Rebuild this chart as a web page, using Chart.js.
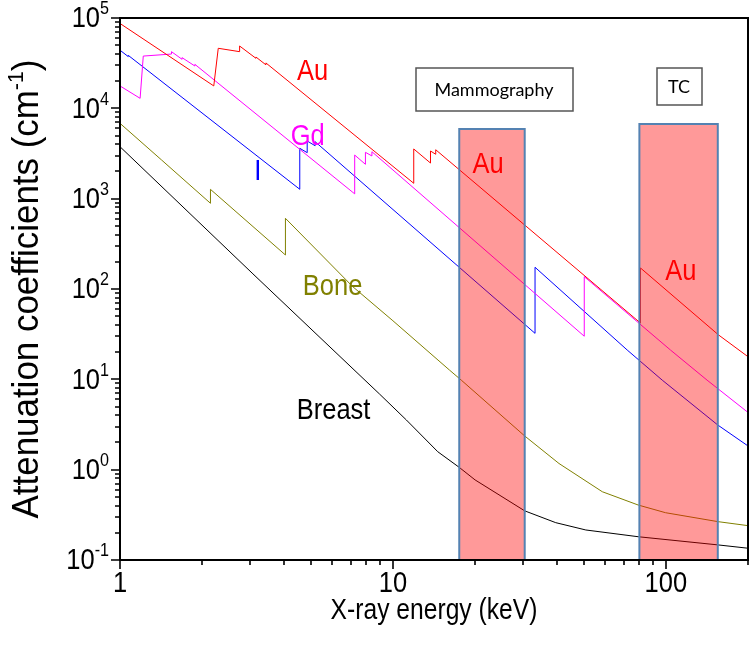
<!DOCTYPE html>
<html>
<head>
<meta charset="utf-8">
<script src="https://cdn.jsdelivr.net/npm/chart.js@4.4.1/dist/chart.umd.min.js"></script>
<style>
  html, body { margin: 0; padding: 0; background: #fff; }
  #wrap { width: 750px; height: 659px; position: relative; }
</style>
</head>
<body>
<div id="wrap"><canvas id="chart"></canvas></div>
<script>
// X-ray energy (keV) / attenuation coefficient (cm^-1)
const auEnergy = [1, 2.206, 2.291, 2.743, 2.743, 3.148, 3.148, 3.425, 3.425, 11.92, 11.92, 13.73, 13.73, 14.35, 14.35, 80.72, 80.72, 156, 200];
const auMu = [87000, 17700, 46200, 42400, 49000, 35800, 37000, 30300, 31800, 1480, 3550, 2480, 3370, 3100, 3480, 42, 171, 31, 17.8];

const gdEnergy = [1, 1.185, 1.217, 1.544, 1.544, 1.688, 1.688, 1.881, 1.881, 7.243, 7.243, 7.93, 7.93, 8.376, 8.376, 50.24, 50.24, 104, 141.6, 200];
const gdMu = [17700, 12900, 37900, 39900, 42400, 34900, 36400, 29400, 30700, 1130, 3040, 2400, 3260, 2970, 3310, 30, 137, 21.1, 9.8, 4.3];

const iEnergy = [1, 1.072, 1.072, 4.557, 4.557, 4.852, 4.852, 5.188, 5.188, 33.17, 33.17, 72.2, 97, 155, 200];
const iMu = [44000, 37400, 38600, 1270, 3610, 3230, 4350, 3850, 4270, 32.3, 174, 21.1, 9.8, 3.12, 1.83];

const boneEnergy = [1, 1.42, 2.145, 2.145, 4.038, 4.038, 7.13, 10, 16.1, 17.8, 30.4, 40.6, 58.5, 79.2, 99.7, 155, 200];
const boneMu = [6820, 2680, 889, 1268, 238, 606, 106, 44.5, 12.7, 9.8, 2.36, 1.17, 0.57, 0.406, 0.334, 0.266, 0.24];

const breastEnergy = [1, 3.07, 8.93, 11.2, 14.6, 17.5, 20, 30.4, 39.5, 50.9, 79.2, 155, 200];
const breastMu = [3760, 147, 6.88, 3.55, 1.58, 1.06, 0.77, 0.35, 0.259, 0.215, 0.181, 0.147, 0.135];

// energy windows (shaded bands)
const mammoEnergy = [17.5, 17.5, 30.4, 30.4];
const mammoMu = [0.1, 5900, 5900, 0.1];
const tcEnergy = [80, 80, 155, 155];
const tcMu = [0.1, 6700, 6700, 0.1];

// axes
const xTickValues = [1, 10, 100];
const xTickLabels = ['1', '10', '100'];
const yTickExponents = [-1, 0, 1, 2, 3, 4, 5];

const FONT = '"Liberation Sans", Arial, sans-serif';
const NARROW = 0.85; // the original lettering is a condensed Arial

function toPoints(xs, ys) {
    return xs.map((x, i) => ({ x: x, y: ys[i] }));
}

function curve(label, xs, ys, color) {
    return {
        label: label,
        data: toPoints(xs, ys),
        borderColor: color,
        borderWidth: 1,
        pointRadius: 0,
        showLine: true,
        fill: false,
        order: 1
    };
}

function band(label, xs, ys) {
    return {
        label: label,
        data: toPoints(xs, ys),
        borderColor: 'rgb(84,130,178)',
        borderWidth: 2,
        backgroundColor: 'rgba(255,0,0,0.4)',
        pointRadius: 0,
        showLine: true,
        fill: 'start',
        order: 0
    };
}

// parts: [[text, size, dy], ...] drawn side by side, squeezed horizontally by sx
function richText(ctx, parts, x, y, align, sx) {
    let w = 0;
    parts.forEach(p => {
        ctx.font = p[1] + 'px ' + FONT;
        w += ctx.measureText(p[0]).width;
    });
    const left = align === 'right' ? x - w * sx : align === 'center' ? x - w * sx / 2 : x;
    ctx.save();
    ctx.translate(left, y);
    ctx.scale(sx, 1);
    ctx.textAlign = 'left';
    ctx.textBaseline = 'middle';
    let cx = 0;
    parts.forEach(p => {
        ctx.font = p[1] + 'px ' + FONT;
        ctx.fillText(p[0], cx, p[2] || 0);
        cx += ctx.measureText(p[0]).width;
    });
    ctx.restore();
}

const decor = {
    id: 'decor',
    afterDraw(chart) {
        const ctx = chart.ctx;
        const a = chart.chartArea;
        const xs = chart.scales.x;
        const ys = chart.scales.y;
        ctx.save();

        // frame
        ctx.strokeStyle = '#000';
        ctx.lineWidth = 2;
        ctx.strokeRect(a.left, a.top, a.right - a.left, a.bottom - a.top);

        // minor and major ticks, outside
        ctx.lineWidth = 1.6;
        ctx.beginPath();
        for (let e = -1; e <= 5; e++) {
            for (let m = 1; m <= 9; m++) {
                const v = m * Math.pow(10, e);
                if (v > ys.max * 1.0001) break;
                const y = Math.round(ys.getPixelForValue(v));
                const len = m === 1 ? 9 : 5;
                ctx.moveTo(a.left, y);
                ctx.lineTo(a.left - len, y);
            }
        }
        for (let e = 0; e <= 2; e++) {
            for (let m = 1; m <= 9; m++) {
                const v = m * Math.pow(10, e);
                if (v > xs.max * 1.0001) break;
                const x = Math.round(xs.getPixelForValue(v));
                const len = m === 1 ? 9 : 5;
                ctx.moveTo(x, a.bottom);
                ctx.lineTo(x, a.bottom + len);
            }
        }
        ctx.stroke();

        // tick labels
        ctx.fillStyle = '#000';
        yTickExponents.forEach(p => {
            const y = ys.getPixelForValue(Math.pow(10, p));
            richText(ctx, [['10', 30, 0], [String(p), 19, -10]], a.left - 11, y + 1, 'right', NARROW);
        });
        xTickValues.forEach((v, i) => {
            richText(ctx, [[xTickLabels[i], 30, 0]], xs.getPixelForValue(v), a.bottom + 24, 'center', NARROW);
        });

        // axis titles
        richText(ctx, [['X-ray energy (keV)', 29, 0]], (a.left + a.right) / 2, a.bottom + 51, 'center', NARROW);

        ctx.save();
        ctx.translate(28, (a.top + a.bottom) / 2);
        ctx.rotate(-Math.PI / 2);
        richText(ctx, [['Attenuation coefficients (cm', 36, 0], ['-1', 22, -11], [')', 36, 0]], 0, 0, 'center', 0.97);
        ctx.restore();

        // curve labels, anchored in data units
        const labels = [
            ['Au', 5.08, 25200, '#ff0000'],
            ['Gd', 4.87, 4820, '#ff00ff'],
            ['I', 3.2, 1970, '#0000ff'],
            ['Bone', 6.01, 105, '#808000'],
            ['Breast', 6.06, 4.45, '#000000'],
            ['Au', 22.3, 2360, '#ff0000'],
            ['Au', 113.5, 154, '#ff0000']
        ];
        labels.forEach(l => {
            ctx.fillStyle = l[3];
            richText(ctx, [[l[0], 30, 0]], xs.getPixelForValue(l[1]), ys.getPixelForValue(l[2]), 'center', NARROW);
        });

        // window captions
        const boxes = [
            ['Mammography', 23.4, 16400, 157, 43],
            ['TC', 111.6, 17700, 45, 37]
        ];
        ctx.font = '18px Lato, "Open Sans", sans-serif';
        ctx.textAlign = 'center';
        ctx.textBaseline = 'middle';
        boxes.forEach(b => {
            const cx = Math.round(xs.getPixelForValue(b[1]));
            const cy = Math.round(ys.getPixelForValue(b[2]));
            ctx.fillStyle = '#fff';
            ctx.fillRect(cx - b[3] / 2, cy - b[4] / 2, b[3], b[4]);
            ctx.strokeStyle = '#555';
            ctx.lineWidth = 1.5;
            ctx.strokeRect(cx - b[3] / 2 + 0.5, cy - b[4] / 2 + 0.5, b[3], b[4]);
            ctx.fillStyle = '#000';
            ctx.fillText(b[0], cx, cy + 1);
        });

        ctx.restore();
    }
};

new Chart(document.getElementById('chart'), {
    type: 'scatter',
    data: {
        datasets: [
            band('Mammography', mammoEnergy, mammoMu),
            band('TC', tcEnergy, tcMu),
            curve('Au', auEnergy, auMu, '#ff0000'),
            curve('Gd', gdEnergy, gdMu, '#ff00ff'),
            curve('I', iEnergy, iMu, '#0000ff'),
            curve('Bone', boneEnergy, boneMu, '#808000'),
            curve('Breast', breastEnergy, breastMu, '#000000')
        ]
    },
    options: {
        responsive: true,
        maintainAspectRatio: false,
        animation: false,
        layout: { padding: { left: 120, top: 18, right: 2, bottom: 99 } },
        plugins: {
            legend: { display: false },
            tooltip: { enabled: false }
        },
        scales: {
            x: { type: 'logarithmic', display: false, min: 1, max: 200 },
            y: { type: 'logarithmic', display: false, min: 0.1, max: 100000 }
        }
    },
    plugins: [decor]
});
</script>
</body>
</html>
